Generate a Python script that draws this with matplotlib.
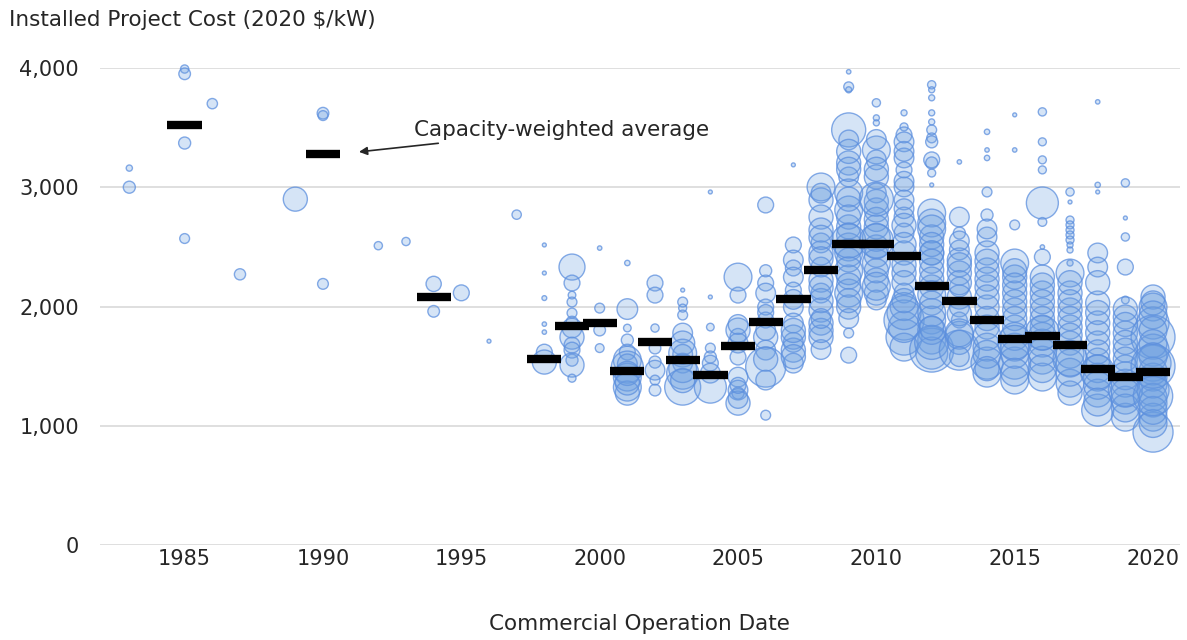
import matplotlib.pyplot as plt

plt.rcParams['font.family'] = ['DejaVu Sans']

# individual projects, grouped by commercial operation year
cod_years = [1983, 1985, 1986, 1987, 1989, 1990, 1992, 1993, 1994, 1995, 1996, 1997,
             1998, 1999, 2000, 2001, 2002, 2003, 2004, 2005, 2006, 2007, 2008, 2009,
             2010, 2011, 2012, 2013, 2014, 2015, 2016, 2017, 2018, 2019, 2020]

# installed cost, 2020 $/kW
cost_groups = [
    [3000, 3160],
    [3990, 3950, 3370, 2570],
    [3700],
    [2270],
    [2900],
    [3620, 3600, 2190],
    [2510],
    [2545],
    [2190, 1960],
    [2115],
    [1710],
    [2770],
    [2516, 2281, 2071, 1853, 1786, 1618, 1535],
    [2331, 2197, 2096, 2038, 1946, 1870, 1820, 1744, 1677, 1635, 1551, 1510, 1400],
    [2490, 1987, 1803, 1652],
    [2365, 1979, 1820, 1719, 1618, 1551, 1493, 1409, 1325, 1275, 1520, 1440, 1360],
    [2197, 2096, 1820, 1652, 1535, 1467, 1384, 1300],
    [2138, 2038, 1987, 1929, 1778, 1694, 1610, 1526, 1442, 1325, 1480, 1600, 1380],
    [2960, 2080, 1828, 1652, 1577, 1526, 1442, 1325],
    [2247, 2096, 1803, 1694, 1577, 1409, 1300, 1275, 1191, 1230, 1750, 1850, 1340],
    [2851, 2197, 2113, 1996, 1887, 1744, 1635, 1493, 1384, 1090, 2300, 1560, 1800, 1950],
    [3187, 2516, 2390, 2323, 2247, 2138, 1996, 1862, 1744, 1635, 1526, 1700, 1800, 2060, 1580],
    [3002, 2893, 2750, 2641, 2533, 2449, 2331, 2222, 2113, 1971, 1862, 1744, 1640,
     2950, 2580, 2400, 2050, 1800, 1900, 2160],
    [3967, 3841, 3816, 3480, 3396, 3203, 3086, 2952, 2809, 2667, 2499, 2390, 2247, 2113, 1996, 1778, 1593,
     3300, 3150, 2900, 2750, 2600, 2450, 2300, 2180, 2050, 1900, 2550],
    [3707, 3581, 3539, 3312, 3229, 3086, 2952, 2809, 2667, 2499, 2365, 2222, 2113, 2055,
     3400, 3150, 2880, 2730, 2580, 2430, 2300, 2170, 2900, 2550],
    [3623, 3505, 3438, 3380, 3245, 3145, 3002, 2893, 2750, 2616, 2449, 2281, 2113, 1887, 1744, 1660, 1830,
     3300, 3050, 2820, 2680, 2520, 2350, 2200, 2000, 1950, 2050],
    [3858, 3816, 3749, 3623, 3547, 3480, 3413, 3380, 3229, 3203, 3119, 3019,
     2784, 2700, 2583, 2449, 2306, 2164, 2029, 1887, 1719, 1610, 1635, 2450,
     2650, 2520, 2380, 2230, 2100, 1950, 1800, 1700, 1820],
    [3212, 2750, 2616, 2474, 2390, 2281, 2164, 1996, 1887, 1635, 1760,
     2550, 2350, 2200, 2080, 1940, 1780, 1700, 1580],
    [3464, 3312, 3245, 2960, 2767, 2583, 2449, 2306, 2164, 1996, 1828, 1660, 1526, 1442,
     2380, 2230, 2080, 1900, 1750, 1600, 1480, 2650],
    [3606, 3312, 2684, 2365, 2247, 2113, 1971, 1828, 1660, 1526, 1384,
     2300, 2180, 2040, 1900, 1750, 1600, 1450, 1700],
    [3631, 3380, 3229, 3145, 2868, 2709, 2499, 2415, 2247, 2113, 1971, 1828, 1694, 1551, 1409,
     2180, 2040, 1900, 1750, 1620, 1480, 1780],
    [2960, 2876, 2725, 2684, 2641, 2600, 2558, 2516, 2474, 2365, 2281, 2113, 1971, 1828, 1694, 1526, 1358, 1275,
     2200, 2040, 1900, 1760, 1600, 1450, 1560],
    [3715, 3019, 2960, 2449, 2331, 2029, 1862, 1694, 1551, 1409, 1275, 1132,
     2200, 1950, 1780, 1620, 1480, 1340, 1200, 1450],
    [3036, 2742, 2583, 2331, 2055, 1912, 1778, 1635, 1493, 1358, 1216, 1073,
     1980, 1850, 1700, 1560, 1420, 1280, 1150, 1300],
    [2080, 1996, 1862, 1744, 1635, 1526, 1409, 1300, 1191, 1073, 948,
     2030, 1930, 1800, 1690, 1580, 1460, 1350, 1240, 1130, 1020, 1500, 1250],
]

# bubble area (scales with project capacity)
size_groups = [
    [75, 20],
    [35, 70, 75, 50],
    [55],
    [65],
    [300],
    [70, 50, 60],
    [35],
    [35],
    [120, 70],
    [130],
    [8],
    [45],
    [8, 8, 12, 10, 10, 130, 300],
    [350, 130, 30, 50, 50, 70, 200, 300, 130, 130, 75, 300, 33],
    [10, 50, 70, 40],
    [15, 220, 30, 75, 130, 400, 530, 400, 400, 300, 200, 300, 300],
    [130, 130, 35, 70, 75, 200, 50, 70],
    [8, 50, 33, 50, 200, 300, 400, 200, 530, 670, 400, 200, 300],
    [8, 8, 30, 50, 75, 130, 200, 530],
    [400, 130, 300, 200, 130, 200, 200, 75, 300, 200, 130, 200, 130],
    [130, 130, 200, 130, 130, 300, 200, 830, 200, 50, 75, 300, 200, 130],
    [8, 130, 200, 130, 200, 130, 200, 200, 300, 300, 200, 200, 300, 200, 300],
    [400, 300, 300, 300, 200, 300, 200, 300, 200, 300, 300, 300, 200,
     200, 300, 300, 300, 300, 200, 300],
    [10, 50, 19, 600, 200, 300, 200, 400, 400, 300, 400, 300, 300, 400, 300, 50, 130,
     300, 300, 300, 300, 300, 400, 400, 300, 300, 200, 600],
    [35, 19, 19, 400, 200, 300, 200, 300, 300, 300, 400, 300, 300, 200,
     200, 300, 300, 300, 400, 300, 300, 400, 600, 600],
    [19, 33, 130, 200, 200, 130, 200, 200, 200, 200, 300, 300, 200, 830, 670, 400, 500,
     200, 200, 200, 300, 300, 300, 300, 400, 600, 300],
    [35, 19, 19, 19, 19, 50, 50, 75, 130, 75, 33, 8,
     400, 400, 300, 300, 300, 300, 300, 400, 400, 530, 1000, 300,
     400, 300, 300, 300, 400, 400, 400, 600, 300],
    [10, 200, 75, 200, 300, 300, 200, 200, 130, 830, 400,
     200, 300, 300, 300, 300, 400, 300, 200],
    [15, 10, 15, 50, 75, 200, 300, 300, 300, 300, 300, 400, 530, 400,
     300, 300, 300, 300, 400, 400, 300, 200],
    [8, 10, 50, 400, 300, 300, 300, 300, 400, 530, 400,
     300, 300, 300, 300, 400, 400, 400, 600],
    [35, 33, 33, 33, 530, 40, 10, 130, 300, 300, 300, 300, 400, 400, 400,
     300, 300, 300, 400, 400, 400, 600],
    [35, 8, 33, 33, 33, 33, 33, 19, 19, 19, 400, 300, 300, 300, 300, 400, 400, 300,
     300, 300, 300, 300, 400, 400, 600],
    [10, 15, 8, 200, 200, 300, 300, 300, 300, 400, 400, 530,
     300, 300, 300, 300, 400, 400, 400, 600],
    [35, 8, 35, 130, 30, 300, 300, 300, 300, 400, 400, 400,
     300, 300, 300, 300, 400, 400, 400, 600],
    [300, 400, 530, 1000, 530, 670, 400, 530, 400, 400, 830,
     300, 400, 400, 400, 400, 400, 400, 400, 400, 400, 1000, 800],
]

# capacity-weighted average by year
avg_years = [1985, 1990, 1994, 1998, 1999, 2000, 2001, 2002, 2003, 2004, 2005, 2006, 2007,
             2008, 2009, 2010, 2011, 2012, 2013, 2014, 2015, 2016, 2017, 2018, 2019, 2020]
avg_costs = [3520, 3280, 2080, 1560, 1840, 1860, 1460, 1700, 1550, 1430, 1670, 1870, 2060,
             2310, 2520, 2520, 2420, 2170, 2050, 1890, 1730, 1750, 1680, 1480, 1410, 1450]

years, costs, sizes = [], [], []
for yr, cs, ss in zip(cod_years, cost_groups, size_groups):
    years += [yr] * len(cs)
    costs += cs
    sizes += ss

fig = plt.figure(figsize=(11.87, 6.4), dpi=100)
ax = fig.add_axes([0.084, 0.148, 0.91, 0.746])

ax.scatter(years, costs, s=sizes, facecolor=(0.42, 0.62, 0.88, 0.28),
           edgecolor=(0.36, 0.56, 0.87, 0.75), linewidth=1.0, zorder=2, clip_on=False)
ax.hlines(avg_costs, [y - 0.62 for y in avg_years], [y + 0.62 for y in avg_years],
          color='black', linewidth=6, zorder=3)

ax.annotate('Capacity-weighted average', xy=(1991.3, 3296), xytext=(1993.3, 3480),
            fontsize=15.5, color='#262626', va='center', ha='left',
            arrowprops=dict(arrowstyle='-|>', color='#262626', lw=1.2, mutation_scale=12,
                            shrinkA=4, shrinkB=0))

ax.set_xlim(1981.93, 2020.97)
ax.set_ylim(0, 4000)
ax.set_xticks([1985, 1990, 1995, 2000, 2005, 2010, 2015, 2020])
ax.set_yticks([0, 1000, 2000, 3000, 4000])
ax.set_yticklabels(['0', '1,000', '2,000', '3,000', '4,000'])
ax.tick_params(length=0, labelsize=15, labelcolor='#262626')
ax.tick_params(axis='y', pad=15)
ax.tick_params(axis='x', pad=3)
ax.grid(axis='y', color='#d9d9d9', linewidth=1.2, zorder=0)
ax.set_axisbelow(True)
for sp in ax.spines.values():
    sp.set_visible(False)

ax.set_xlabel('Commercial Operation Date', fontsize=15.5, color='#262626', labelpad=32)
fig.text(0.008, 0.968, 'Installed Project Cost (2020 $/kW)', fontsize=15.5,
         color='#262626', va='center', ha='left')

fig.savefig('out.png', dpi=100)
